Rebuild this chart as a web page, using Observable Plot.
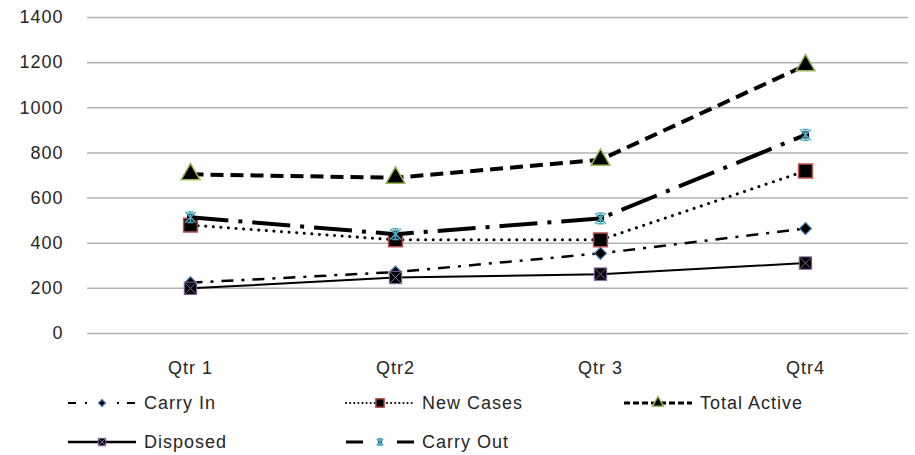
<!DOCTYPE html>
<html><head><meta charset="utf-8">
<script src="https://cdn.jsdelivr.net/npm/d3@7"></script>
<script src="https://cdn.jsdelivr.net/npm/@observablehq/plot@0.6"></script>
<style>
body{margin:0;background:#fff;font-family:"Liberation Sans",Arial,sans-serif;}
#chart svg{display:block}
#chart text{letter-spacing:1px;fill:#262626}
</style></head><body><div id="chart"></div>
<script>
const quarters = ["Qtr 1","Qtr2","Qtr 3","Qtr4"];
const yTicks = [0,200,400,600,800,1000,1200,1400];
const seriesNames = ["Carry In","New Cases","Total Active","Disposed","Carry Out"];
const carryIn = [225,272,355,465];
const newCases = [480,415,415,720];
const totalActive = [705,690,770,1188];
const disposed = [200,248,263,312];
const carryOut = [515,440,510,880];
const seriesValues = [carryIn,newCases,totalActive,disposed,carryOut];

// custom marker shapes
const diamondSym = {draw(ctx,size){const h=Math.sqrt(size/2);ctx.moveTo(0,-h);ctx.lineTo(h,0);ctx.lineTo(0,h);ctx.lineTo(-h,0);ctx.closePath();}};
const starSym = {draw(ctx,size){const h=Math.sqrt(size)/2;ctx.moveTo(-h,-h);ctx.lineTo(h,h);ctx.moveTo(h,-h);ctx.lineTo(-h,h);ctx.moveTo(0,-h);ctx.lineTo(0,h);ctx.moveTo(-h*0.6,-h);ctx.lineTo(h*0.6,-h);ctx.moveTo(-h*0.6,h);ctx.lineTo(h*0.6,h);}};
const timesSym = {draw(ctx,size){const h=Math.sqrt(size)/2;ctx.moveTo(-h,-h);ctx.lineTo(h,h);ctx.moveTo(h,-h);ctx.lineTo(-h,h);}};

const styles = {
  "Carry In": {dash:"12,8,3,8", width:2.5, cap:"butt", legDash:"8,9,2,30,2,8,8", legWidth:2,
    marks:[{symbol:diamondSym, r:4.8, fill:"#000", stroke:"#4f81bd", sw:1.2}]},
  "New Cases": {dash:"0.1,7.5", width:3, cap:"round", legDash:"0.1,4", legWidth:2,
    marks:[{symbol:"square", r:7.8, fill:"#000", stroke:"#c0504d", sw:1.5}]},
  "Total Active": {dash:"13,7", width:4, cap:"butt", legDash:"6,3", legWidth:3,
    marks:[{symbol:"triangle", r:7, fill:"#000", stroke:"#9bbb59", sw:1.5}]},
  "Disposed": {dash:null, width:2, cap:"butt", legDash:null, legWidth:2.5,
    marks:[{symbol:"square", r:7, fill:"#000", stroke:"#8064a2", sw:1},{symbol:timesSym, r:7, fill:"none", stroke:"#8064a2", sw:1}]},
  "Carry Out": {dash:"38,10,4,10", width:4, cap:"butt", legDash:"17,34,17", legWidth:3,
    marks:[{symbol:"square", r:4, fill:"#000", stroke:"none", sw:0},{symbol:starSym, r:6, fill:"none", stroke:"#4bacc6", sw:1.5}]}
};

const marks = [Plot.ruleY(yTicks, {stroke:"#b3b3b3", strokeWidth:1.5})];
seriesNames.forEach((name,i)=>{
  const rows = quarters.map((q,j)=>({q, v: seriesValues[i][j]}));
  const st = styles[name];
  marks.push(Plot.line(rows,{x:"q",y:"v",stroke:"#000",strokeWidth:st.width,strokeDasharray:st.dash||undefined,strokeLinecap:st.cap}));
  st.marks.forEach(m=>marks.push(Plot.dot(rows,{x:"q",y:"v",symbol:m.symbol,r:m.r,fill:m.fill,stroke:m.stroke,strokeWidth:m.sw})));
});

const chart = Plot.plot({
  width:915, height:385,
  marginLeft:87, marginRight:7, marginTop:17, marginBottom:52,
  style:{fontFamily:'"Liberation Sans",Arial,sans-serif', fontSize:"18px", background:"#fff", color:"#262626"},
  x:{type:"point", domain:quarters, padding:0.5, label:null, tickSize:0, tickPadding:28},
  y:{domain:[0,1400], ticks:yTicks, tickFormat:d=>String(d), label:null, tickSize:0, tickPadding:24},
  marks
});
document.getElementById("chart").appendChild(chart);

// legend
const legPos = [[68,18],[346,18],[624,18],[68,57],[346,57]];
const leg = d3.create("svg").attr("width",915).attr("height",70)
  .style("font-family",'"Liberation Sans",Arial,sans-serif').style("font-size","18px");
seriesNames.forEach((name,i)=>{
  const [x0,y0] = legPos[i];
  const st = styles[name];
  const g = leg.append("g");
  const ln = g.append("line").attr("x1",x0).attr("x2",x0+68).attr("y1",y0).attr("y2",y0)
    .attr("stroke","#000").attr("stroke-width",st.legWidth).attr("stroke-linecap",st.cap);
  if (st.legDash) ln.attr("stroke-dasharray",st.legDash);
  st.marks.forEach(m=>{
    const rr = m.r*0.6;
    g.append("path").attr("transform",`translate(${x0+34},${y0})`)
      .attr("d", d3.symbol(typeof m.symbol==="string" ? (m.symbol==="square"?d3.symbolSquare:d3.symbolTriangle) : m.symbol, rr*rr*Math.PI)())
      .attr("fill",m.fill).attr("stroke",m.stroke).attr("stroke-width",m.sw);
  });
  g.append("text").attr("x",x0+76).attr("y",y0).attr("dy","0.35em").text(name);
});
document.getElementById("chart").appendChild(leg.node());
</script></body></html>
